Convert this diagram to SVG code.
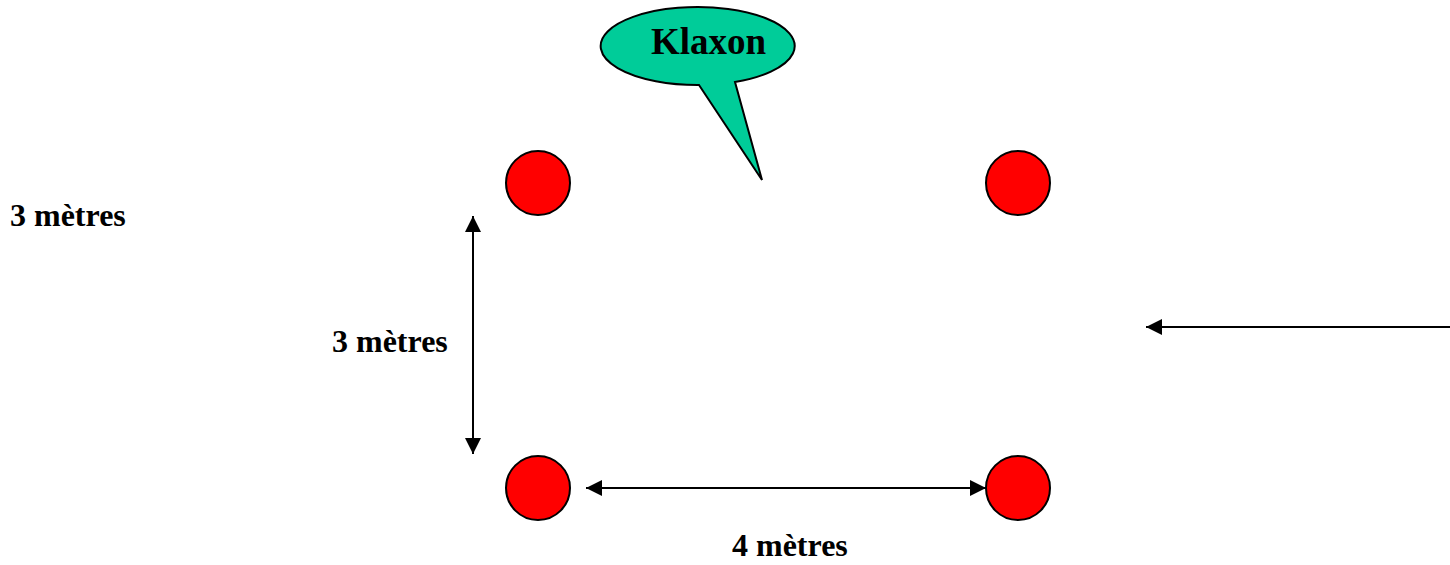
<svg xmlns="http://www.w3.org/2000/svg" width="1450" height="565" viewBox="0 0 1450 565">
<style>
.dot{fill:#ff0000;stroke:#000;stroke-width:2}
.lbl{font-family:"Liberation Serif","Times New Roman",serif;font-weight:bold;font-size:32px;fill:#000}
.conn{stroke:#000;stroke-width:2;fill:none}
</style>
<defs>
<marker id="ah" markerUnits="userSpaceOnUse" markerWidth="16" markerHeight="16" refX="16" refY="8" orient="auto-start-reverse">
<path d="M0,0 L16,8 L0,16 Z" fill="#000"/>
</marker>
</defs>
<rect width="1450" height="565" fill="#fff"/>
<g id="balloon">
<path d="M699,85 L762,180 L735,82 A97,39 0 1 0 699,85 Z" fill="#00cc99" stroke="#000" stroke-width="2"/>
<text x="651" y="54" class="lbl" style="font-size:37px">Klaxon</text>
</g>
<g id="dot-tl"><circle class="dot" cx="538" cy="183" r="32"/></g>
<g id="dot-tr"><circle class="dot" cx="1018" cy="183" r="32"/></g>
<g id="dot-bl"><circle class="dot" cx="538" cy="488" r="32"/></g>
<g id="dot-br"><circle class="dot" cx="1018" cy="488" r="32"/></g>
<g id="label-left"><text x="10" y="226" class="lbl">3 mètres</text></g>
<g id="label-vert"><text x="332" y="352" class="lbl">3 mètres</text></g>
<g id="label-horiz"><text x="732" y="556" class="lbl">4 mètres</text></g>
<g id="connectors">
<line class="conn" x1="473" y1="216" x2="473" y2="454" marker-start="url(#ah)" marker-end="url(#ah)"/>
<line class="conn" x1="586" y1="488" x2="986" y2="488" marker-start="url(#ah)" marker-end="url(#ah)"/>
<line class="conn" x1="1450" y1="327" x2="1146" y2="327" marker-end="url(#ah)"/>
</g>
</svg>
